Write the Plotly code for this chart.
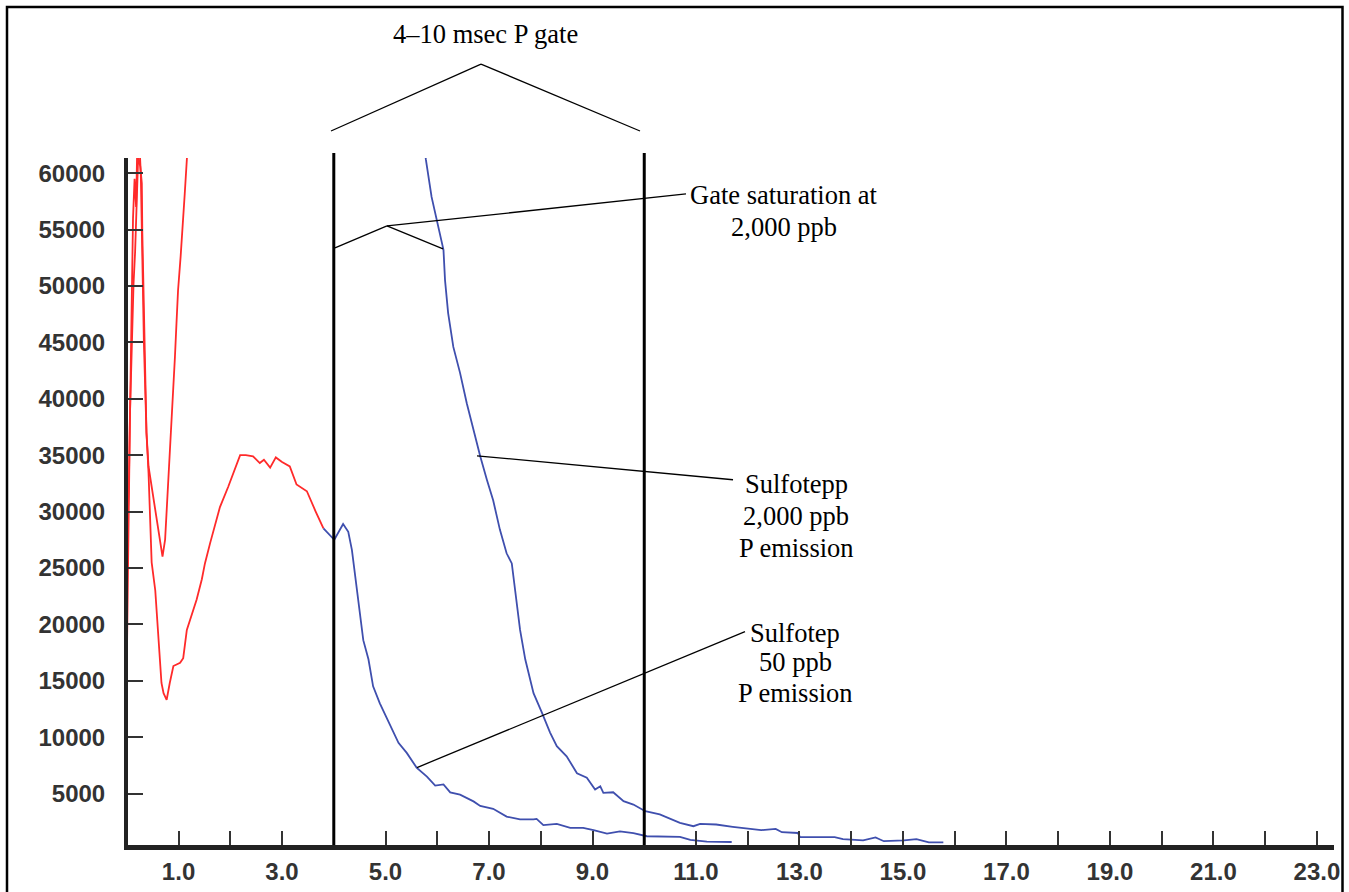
import plotly.graph_objects as go

# ---------------- data ----------------
# 50 ppb sample, early (red) part
red50_x = [0.00, 0.01, 0.02, 0.04, 0.06, 0.08, 0.10, 0.12, 0.15, 0.18, 0.20, 0.24, 0.27, 0.29,
           0.31, 0.33, 0.35, 0.38, 0.42, 0.45, 0.48, 0.55, 0.58, 0.61, 0.64, 0.67, 0.71, 0.77,
           0.83, 0.90, 1.03, 1.09, 1.16, 1.25, 1.35, 1.45, 1.51, 1.61, 1.70, 1.80, 1.96, 2.19,
           2.30, 2.44, 2.57, 2.65, 2.77, 2.88, 3.00, 3.15, 3.28, 3.48, 3.65, 3.80]
red50_y = [16500, 22000, 27000, 31000, 38000, 45000, 50000, 56000, 59500, 57000, 62000, 63000, 60000, 56000,
           50000, 45000, 41000, 37000, 33400, 29000, 25500, 23000, 21000, 18900, 17100, 14800, 13900, 13300,
           14800, 16300, 16600, 17000, 19500, 20700, 22200, 24000, 25400, 27200, 28700, 30400, 32200, 35000,
           35000, 34900, 34300, 34600, 33900, 34800, 34400, 34000, 32400, 31800, 30000, 28500]

# 50 ppb sample, P emission (blue) part
blue50_x = [3.80, 3.90, 4.01, 4.18, 4.28, 4.35, 4.41, 4.47, 4.57, 4.67, 4.76, 4.89, 5.05, 5.25,
            5.41, 5.60, 5.80, 5.96, 6.12, 6.25, 6.44, 6.70, 6.83, 6.96, 7.08, 7.34, 7.60, 7.86,
            7.92, 8.05, 8.31, 8.57, 8.82, 9.02, 9.28, 9.53, 9.79, 10.05, 10.69, 10.89, 11.21, 11.69]
blue50_y = [28500, 28000, 27500, 28900, 28200, 26600, 24500, 22200, 18600, 16900, 14500, 13000, 11400, 9500,
            8600, 7300, 6500, 5700, 5800, 5100, 4900, 4300, 3900, 3800, 3640, 2950, 2700, 2700,
            2750, 2200, 2300, 1960, 1960, 1750, 1450, 1640, 1480, 1210, 1160, 880, 740, 700]

# 2,000 ppb sample, early (red) part
red2k_x = [0.00, 0.02, 0.04, 0.06, 0.09, 0.13, 0.16, 0.19, 0.22, 0.26, 0.29, 0.30, 0.32, 0.34,
           0.35, 0.38, 0.42, 0.48, 0.55, 0.61, 0.69, 0.74, 0.77, 0.80, 0.83, 0.87, 0.90, 0.93,
           0.96, 0.99, 1.04, 1.09, 1.12, 1.16, 1.20]
red2k_y = [27000, 30000, 32500, 38400, 44300, 50200, 53000, 58000, 61500, 60600, 59100, 54700, 50200, 44300,
           41400, 37000, 34000, 32200, 30200, 28100, 26000, 27500, 29900, 32200, 35200, 37800, 40800, 43700,
           46700, 49600, 52600, 55600, 58200, 61200, 64000]

# 2,000 ppb sample, P emission (blue) part
blue2k_x = [5.76, 5.78, 5.89, 5.99, 6.12, 6.15, 6.21, 6.31, 6.44, 6.57, 6.70, 6.83, 6.96, 7.08,
            7.21, 7.34, 7.44, 7.50, 7.60, 7.70, 7.86, 8.02, 8.18, 8.31, 8.50, 8.70, 8.89, 9.05,
            9.15, 9.21, 9.40, 9.60, 9.79, 10.02, 10.30, 10.69, 10.95, 11.08, 11.39, 11.71, 11.95, 12.26,
            12.54, 12.66, 12.97, 13.01, 13.68, 13.84, 14.23, 14.47, 14.63, 15.02, 15.26, 15.50, 15.78]
blue2k_y = [62000, 61200, 57900, 55900, 53200, 50500, 47600, 44600, 42300, 39600, 37200, 34900, 32800, 31000,
            28400, 26300, 25400, 23100, 19500, 16900, 13900, 12200, 10400, 9200, 8300, 6800, 6400, 5350,
            5640, 5060, 5110, 4320, 4020, 3430, 3140, 2400, 2100, 2300, 2250, 2050, 1930, 1750,
            1860, 1570, 1500, 1130, 1130, 950, 840, 1100, 770, 840, 950, 660, 660]

x_tick_vals = list(range(1, 24))
x_tick_text = [f"{v}.0" if v % 2 == 1 else "" for v in x_tick_vals]
y_tick_vals = [5000, 10000, 15000, 20000, 25000, 30000, 35000, 40000, 45000, 50000, 55000, 60000]
y_tick_text = [str(v) for v in y_tick_vals]

gate_x = [4.0, 10.0]

# label texts, one line each
gate_title = "4–10 msec P gate"
sat_lines = ["Gate saturation at", "2,000 ppb"]
hi_lines = ["Sulfotepp", "2,000 ppb", "P emission"]
lo_lines = ["Sulfotep", "50 ppb", "P emission"]

# ---------------- layout geometry (pixels) ----------------
FW, FH = 1349, 892
L, T = 128, 158
R_EDGE, B_EDGE = 1334, 845.5
W, H = R_EDGE - L, B_EDGE - T


def px(xp):
    return (xp - L) / W


def py(yp):
    return (B_EDGE - yp) / H


RED = "#ff2a2a"
BLUE = "#3f4fae"

fig = go.Figure()
fig.add_trace(go.Scatter(x=red2k_x, y=red2k_y, mode="lines", line=dict(color=RED, width=1.8), showlegend=False))
fig.add_trace(go.Scatter(x=red50_x, y=red50_y, mode="lines", line=dict(color=RED, width=1.8), showlegend=False))
fig.add_trace(go.Scatter(x=blue50_x, y=blue50_y, mode="lines", line=dict(color=BLUE, width=1.8), showlegend=False))
fig.add_trace(go.Scatter(x=blue2k_x, y=blue2k_y, mode="lines", line=dict(color=BLUE, width=1.8), showlegend=False))

shapes = []
# gate lines
for gx in gate_x:
    shapes.append(dict(type="line", xref="x", yref="paper", x0=gx, x1=gx, y0=0, y1=py(153),
                       line=dict(color="black", width=3)))


def seg(p0, p1, w=1.3):
    shapes.append(dict(type="line", xref="paper", yref="paper",
                       x0=px(p0[0]), y0=py(p0[1]), x1=px(p1[0]), y1=py(p1[1]),
                       line=dict(color="black", width=w)))


# bracket over the gate
seg((331, 131), (481, 64))
seg((481, 64), (640, 131))
# gate saturation leaders
seg((387, 226), (686, 194))
seg((387, 226), (335, 248))
seg((387, 226), (443, 249))
# sulfotepp leader
seg((477, 456), (733, 480))
# sulfotep leader
seg((417, 768), (745, 632))

# white mask beyond right frame edge, then the frame (its bottom edge lies below the page)
shapes.append(dict(type="rect", xref="paper", yref="paper", x0=px(1340), x1=px(1400), y0=py(1000), y1=py(-50),
                   line=dict(width=0), fillcolor="white", layer="above"))
shapes.append(dict(type="rect", xref="paper", yref="paper", x0=px(7), x1=px(1342.5), y0=py(950), y1=py(7),
                   line=dict(color="black", width=2.5), fillcolor="rgba(0,0,0,0)"))

ann_font = dict(family="Liberation Serif, Times New Roman, serif", size=26.5, color="black")
annotations = [dict(text=gate_title, x=px(485), y=py(34))]
for txt, yy in zip(sat_lines, [195, 227]):
    annotations.append(dict(text=txt, x=px(784), y=py(yy)))
for txt, yy in zip(hi_lines, [484, 516, 548]):
    annotations.append(dict(text=txt, x=px(796), y=py(yy)))
for txt, yy in zip(lo_lines, [633, 662, 693]):
    annotations.append(dict(text=txt, x=px(795), y=py(yy)))
for a in annotations:
    a.update(xref="paper", yref="paper", showarrow=False, xanchor="center", yanchor="middle",
             font=ann_font, align="center")

tick_font = dict(family="Liberation Sans, Arial, sans-serif", size=24, color="#333333", weight="bold")

fig.update_layout(
    width=FW, height=FH, autosize=False,
    margin=dict(l=L, r=FW - R_EDGE, t=T, b=FH - B_EDGE, pad=0, autoexpand=False),
    paper_bgcolor="white", plot_bgcolor="white",
    shapes=shapes, annotations=annotations,
    showlegend=False,
)
fig.update_xaxes(
    range=[0.023, 23.33], showgrid=False, zeroline=False, automargin=False,
    showline=True, linewidth=5, linecolor="#222222",
    ticks="inside", ticklen=14, tickwidth=2, tickcolor="#333333",
    tickvals=x_tick_vals, ticktext=x_tick_text, tickfont=tick_font, ticklabelstandoff=1,
)
fig.update_yaxes(
    range=[434, 61350], showgrid=False, zeroline=False, automargin=False,
    showline=True, linewidth=4, linecolor="#222222",
    ticks="inside", ticklen=15, tickwidth=2, tickcolor="#333333",
    tickvals=y_tick_vals, ticktext=y_tick_text, tickfont=tick_font, ticklabelstandoff=14,
)

fig.write_html(
    "out.html",
    config={"responsive": False, "displayModeBar": False},
    post_script="document.body.style.margin='0';document.body.style.overflow='hidden';",
)
